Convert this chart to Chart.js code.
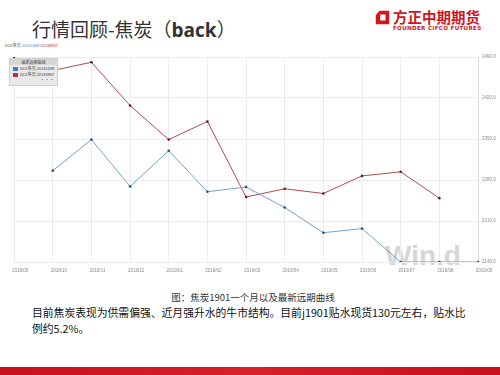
<!DOCTYPE html>
<html>
<head>
<meta charset="utf-8">
<script src="https://cdn.jsdelivr.net/npm/chart.js@4"></script>
<style>
  html, body { margin: 0; padding: 0; background: #fff; }
  body { width: 500px; height: 375px; position: relative; overflow: hidden; font-family: "Noto Sans CJK SC", "Noto Sans", sans-serif; }
  .title { position: absolute; left: 32px; top: 15px; font-size: 19px; color: #333; white-space: nowrap; }
  .title b { font-family: "Open Sans", "Noto Sans", sans-serif; font-weight: 700; }
  .logo-icon { position: absolute; left: 375px; top: 10px; width: 15px; height: 15px; }
  .logo-cn { position: absolute; left: 393px; top: 6px; font-size: 14.5px; font-weight: 700; color: #d2141c; white-space: nowrap; }
  .logo-en { position: absolute; left: 393px; top: 25px; font-size: 5.6px; font-weight: 700; color: #d2141c; font-family: "DejaVu Sans", sans-serif; letter-spacing: 0.3px; white-space: nowrap; }
  .toplbl { position: absolute; left: 5px; top: 42px; font-size: 4px; color: #555; white-space: nowrap; }
  .watermark { position: absolute; left: 385px; top: 240px; font: 700 28px "Liberation Sans", Arial, sans-serif; color: #d6d6d6; white-space: nowrap; }
  #wrap { position: absolute; left: 0; top: 47px; width: 500px; height: 233px; }
  .legend { position: absolute; left: 9px; top: 58px; width: 47px; height: 26px; background: #e9e9e9; border: 1px solid #cfcfcf; font-size: 4px; color: #444; z-index: 3; }
  .legend .hd { text-align: center; background: #d6d6d6; height: 6px; line-height: 6px; }
  .legend .row { height: 6px; line-height: 6px; padding-left: 3px; white-space: nowrap; }
  .legend .sw { display: inline-block; width: 5px; height: 4px; vertical-align: middle; margin-right: 2px; }
  .legend .ft { text-align: right; padding-right: 3px; height: 6px; line-height: 6px; color: #4a4; }
  .caption { position: absolute; left: 0; width: 506px; top: 290px; text-align: center; font-size: 9.5px; color: #333; }
  .para { position: absolute; left: 32px; top: 304px; width: 440px; font-size: 10.8px; line-height: 16px; color: #111; }
  .band { position: absolute; left: 0; top: 367px; width: 500px; height: 8px; background: linear-gradient(90deg, #c8101e, #d81f2a 50%, #c8101e); }
</style>
</head>
<body>
<div class="title">行情回顾-焦炭（<b>back</b>）</div>
<svg class="logo-icon" viewBox="0 0 20 20">
  <path d="M6 1 H19 V19 H1 V7 Z M7 6 V14 H14 V6 Z" fill="#d2141c" fill-rule="evenodd"/>
</svg>
<div class="logo-cn">方正中期期货</div>
<div class="logo-en">FOUNDER CIFCO FUTURES</div>
<div class="toplbl">DCE焦炭 <span style="color:#4a86c5">20181009</span> <span style="color:#b03a3a">20180907</span></div>
<div class="watermark">Win.d</div>
<div id="wrap"><canvas id="c"></canvas></div>
<div class="legend">
  <div class="hd">最新远期曲线</div>
  <div class="row"><span class="sw" style="background:#3d7cc9"></span>DCE焦炭 20181009</div>
  <div class="row"><span class="sw" style="background:#b53333"></span>DCE焦炭 20180907</div>
  <div class="ft">▪ ▪ ▪</div>
</div>
<div class="caption">图：焦炭1901一个月以及最新远期曲线</div>
<div class="para">目前焦炭表现为供需偏强、近月强升水的牛市结构。目前j1901贴水现货130元左右，贴水比例约5.2%。</div>
<div class="band"></div>

<script>
const months = ['2018/09', '2018/10', '2018/11', '2018/12', '2019/01', '2019/02', '2019/03',
    '2019/04', '2019/05', '2019/06', '2019/07', '2019/08', '2019/09'];
// forward curve on 2018-10-09
const curveOct = [null, 2296, 2349, 2269, 2330, 2260, 2268, 2233, 2190, 2197, 2140, 2140, 2140];
// forward curve on 2018-09-07
const curveSep = [2488, 2467, 2481, 2407, 2349, 2380, 2251, 2265, 2257, 2287, 2294, 2249, null];
const yTicks = [2140, 2210, 2280, 2350, 2420, 2490];

const tickC = '#8a8a8a';
const gridC = '#ececec';

new Chart(document.getElementById('c'), {
    type: 'line',
    data: {
        labels: months,
        datasets: [
            {
                label: 'DCE焦炭 20181009',
                data: curveOct,
                borderColor: '#6fa3cf',
                borderWidth: 1,
                pointRadius: 1.3,
                pointBackgroundColor: '#2f4f6f',
                pointBorderWidth: 0,
                tension: 0,
            },
            {
                label: 'DCE焦炭 20180907',
                data: curveSep,
                borderColor: '#b24a4a',
                borderWidth: 1,
                pointRadius: 1.3,
                pointBackgroundColor: '#5a2020',
                pointBorderWidth: 0,
                tension: 0,
            },
        ],
    },
    options: {
        responsive: true,
        maintainAspectRatio: false,
        animation: false,
        layout: { padding: { left: 10, top: 10, right: 0, bottom: 0 } },
        plugins: { legend: { display: false }, tooltip: { enabled: false } },
        scales: {
            x: {
                offset: false,
                grid: { color: gridC, drawTicks: false },
                border: { display: false },
                ticks: { color: tickC, font: { size: 4.5 }, maxRotation: 0, autoSkip: false, labelOffset: 6, padding: 6 },
                afterFit: (s) => { s.height = 18; },
            },
            y: {
                position: 'right',
                min: yTicks[0],
                max: yTicks[yTicks.length - 1],
                afterBuildTicks: (s) => { s.ticks = yTicks.map((v) => ({ value: v })); },
                grid: { color: gridC, drawTicks: false },
                border: { display: true, color: '#d8d8d8' },
                ticks: { color: tickC, font: { size: 4.5 }, padding: 4, callback: (v) => Number(v).toFixed(1) },
                afterFit: (s) => { s.width = 22; },
            },
        },
    },
});
</script>
</body>
</html>
